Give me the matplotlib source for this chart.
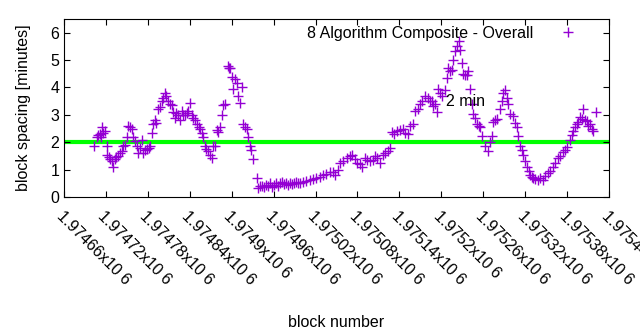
import numpy as np
import matplotlib.pyplot as plt

plt.rcParams['font.family'] = ['Liberation Sans', 'DejaVu Sans']

# block numbers and spacing in minutes
blocks = np.array([
    1974703, 1974707, 1974709, 1974712, 1974713, 1974714, 1974716, 1974719,
    1974722, 1974722, 1974724, 1974726, 1974729, 1974730, 1974733, 1974734,
    1974737, 1974740, 1974743, 1974744, 1974747, 1974750, 1974752, 1974754,
    1974757, 1974759, 1974762, 1974764, 1974766, 1974769, 1974772, 1974773,
    1974776, 1974779, 1974782, 1974783, 1974786, 1974787, 1974790, 1974792,
    1974795, 1974797, 1974800, 1974802, 1974805, 1974806, 1974809, 1974812,
    1974815, 1974816, 1974819, 1974820, 1974823, 1974826, 1974829, 1974830,
    1974833, 1974836, 1974837, 1974840, 1974843, 1974845, 1974847, 1974850,
    1974853, 1974855, 1974858, 1974859, 1974862, 1974863, 1974866, 1974869,
    1974872, 1974873, 1974876, 1974879, 1974880, 1974883, 1974886, 1974888,
    1974890, 1974895, 1974896, 1974898, 1974900, 1974902, 1974905, 1974908,
    1974909, 1974912, 1974915, 1974916, 1974919, 1974922, 1974923, 1974926,
    1974928, 1974930, 1974936, 1974938, 1974941, 1974943, 1974946, 1974949,
    1974952, 1974955, 1974958, 1974961, 1974963, 1974966, 1974969, 1974972,
    1974975, 1974978, 1974981, 1974983, 1974986, 1974989, 1974992, 1974995,
    1974998, 1975002, 1975006, 1975012, 1975016, 1975021, 1975026, 1975031,
    1975035, 1975041, 1975045, 1975048, 1975052, 1975055, 1975059, 1975065,
    1975069, 1975072, 1975076, 1975079, 1975084, 1975086, 1975091, 1975094,
    1975098, 1975102, 1975105, 1975108, 1975112, 1975117, 1975119, 1975124,
    1975127, 1975129, 1975132, 1975137, 1975141, 1975145, 1975148, 1975152,
    1975155, 1975159, 1975162, 1975167, 1975170, 1975172, 1975177, 1975181,
    1975184, 1975187, 1975188, 1975191, 1975194, 1975195, 1975198, 1975201,
    1975205, 1975208, 1975210, 1975212, 1975215, 1975217, 1975220, 1975223,
    1975225, 1975227, 1975230, 1975231, 1975234, 1975237, 1975238, 1975241,
    1975244, 1975245, 1975248, 1975251, 1975254, 1975255, 1975258, 1975263,
    1975267, 1975270, 1975273, 1975274, 1975277, 1975280, 1975284, 1975287,
    1975288, 1975291, 1975294, 1975295, 1975298, 1975303, 1975305, 1975308,
    1975310, 1975313, 1975316, 1975317, 1975320, 1975323, 1975325, 1975327,
    1975330, 1975331, 1975334, 1975338, 1975341, 1975346, 1975348, 1975353,
    1975356, 1975360, 1975363, 1975367, 1975370, 1975374, 1975377, 1975380,
    1975384, 1975387, 1975388, 1975391, 1975394, 1975396, 1975399, 1975402,
    1975403, 1975406, 1975409, 1975410, 1975413, 1975416, 1975417, 1975421,
])
spacing = np.array([
    1.85, 2.18, 2.25, 2.30, 2.20, 2.55, 2.35, 2.40,
    1.85, 1.55, 1.45, 1.37, 1.30, 1.10, 1.37, 1.45,
    1.48, 1.60, 1.67, 1.85, 1.90, 2.20, 2.60, 2.55,
    2.50, 2.20, 2.05, 1.85, 1.60, 1.80, 2.10, 1.60,
    1.70, 1.75, 1.80, 1.85, 2.35, 2.65, 2.80, 2.70,
    3.20, 3.30, 3.50, 3.60, 3.80, 3.70, 3.50, 3.40,
    3.35, 3.10, 2.90, 3.05, 3.00, 2.80, 3.15, 3.00,
    3.00, 3.05, 3.15, 3.45, 3.00, 2.90, 2.80, 2.65,
    2.55, 2.50, 2.35, 2.20, 1.85, 1.75, 1.67, 1.55,
    1.44, 1.85, 1.85, 2.45, 2.37, 2.55, 3.00, 3.35,
    3.40, 4.80, 4.70, 4.70, 4.40, 3.95, 4.30, 4.15,
    3.70, 3.45, 4.00, 2.65, 2.55, 2.50, 2.20, 1.85,
    1.70, 1.37, 0.70, 0.33, 0.40, 0.42, 0.38, 0.45,
    0.42, 0.50, 0.38, 0.45, 0.50, 0.42, 0.50, 0.55,
    0.48, 0.50, 0.45, 0.52, 0.48, 0.50, 0.55, 0.50,
    0.52, 0.55, 0.60, 0.63, 0.65, 0.70, 0.74, 0.80,
    0.85, 0.93, 0.90, 0.81, 1.00, 1.26, 1.30, 1.44,
    1.50, 1.55, 1.40, 1.26, 1.20, 1.11, 1.44, 1.35,
    1.30, 1.35, 1.50, 1.44, 1.26, 1.55, 1.60, 1.67,
    1.80, 2.37, 2.30, 2.40, 2.45, 2.48, 2.35, 2.30,
    2.60, 2.67, 3.15, 3.22, 3.40, 3.52, 3.70, 3.60,
    3.50, 3.52, 3.33, 3.40, 3.10, 3.96, 3.80, 3.70,
    3.90, 4.33, 4.70, 4.60, 4.63, 5.00, 5.33, 5.50,
    5.70, 5.37, 4.90, 4.50, 4.45, 4.45, 4.60, 3.96,
    3.40, 3.04, 2.90, 2.67, 2.60, 2.56, 2.22, 1.85,
    1.67, 2.00, 2.22, 2.74, 2.80, 2.85, 3.22, 3.50,
    3.78, 3.90, 3.60, 3.40, 3.04, 2.96, 2.70, 2.56,
    2.22, 1.85, 1.70, 1.55, 1.30, 1.11, 0.95, 0.81,
    0.72, 0.70, 0.65, 0.63, 0.68, 0.63, 0.75, 0.89,
    0.95, 1.11, 1.25, 1.44, 1.50, 1.63, 1.70, 1.81,
    2.10, 2.25, 2.40, 2.55, 2.67, 2.75, 2.92, 2.85,
    3.22, 2.80, 2.78, 2.60, 2.67, 2.50, 2.40, 3.10,
])
x_ticks = np.arange(1974660, 1975441, 60)
target = 2.0

fig = plt.figure(figsize=(6.4, 3.3), dpi=100)
ax = fig.add_axes([0.1, 0.403, 0.8516, 0.5394])

ax.axhline(target, color='#00ff00', linewidth=3, zorder=1)
ax.plot(blocks, spacing, linestyle='none', marker='+', markersize=6.5,
        markeredgewidth=1, color='#9400d3', zorder=2,
        label='8 Algorithm Composite - Overall')
ax.text(1975207, 3.5, '2 min', fontsize=11.5, ha='left', va='center')

ax.set_xlim(1974660, 1975440)
ax.set_ylim(0, 6.5)
ax.set_yticks(range(0, 7))
ax.set_xticks(x_ticks)
ax.set_xticklabels([f'{t / 1e6:g}x10 6' for t in x_ticks],
                   rotation=-45, ha='left', va='top', rotation_mode='anchor')
ax.tick_params(direction='in', top=True, right=True, labelsize=11.5, length=4)
ax.tick_params(axis='x', pad=8)

ax.set_xlabel('block number', fontsize=11.5, labelpad=20)
ax.set_ylabel('block spacing [minutes]', fontsize=11.5, labelpad=14)
ax.legend(loc='upper right', bbox_to_anchor=(0.964, 0.972), frameon=False,
          markerfirst=False, fontsize=11.5, handlelength=2.5,
          handletextpad=0.9, borderaxespad=0.0, borderpad=0.1)

fig.savefig('out.png', dpi=100)
